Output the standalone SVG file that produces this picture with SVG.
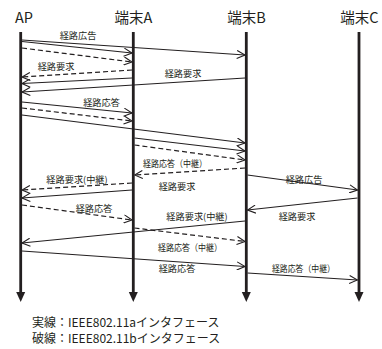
<svg xmlns="http://www.w3.org/2000/svg" width="382" height="349" viewBox="0 0 382 349">
<style>
.hd{font-family:"Noto Sans CJK JP","Noto Sans",sans-serif;font-size:14.5px;fill:#231f20}
.lb{font-family:"Noto Sans CJK JP","Noto Sans",sans-serif;font-size:9.2px;fill:#231f20;text-anchor:middle}
.lg{font-family:"Noto Sans CJK JP","Noto Sans",sans-serif;font-size:12px;fill:#231f20}
.life{stroke:#231f20;stroke-width:2.8;fill:none}
.m{stroke:#231f20;stroke-width:1.2;fill:none;marker-end:url(#oa)}
.d{stroke-dasharray:5,3}
</style>
<defs>
<marker id="oa" viewBox="0 0 10 10" refX="9.5" refY="5" markerWidth="9" markerHeight="9" markerUnits="userSpaceOnUse" orient="auto">
<path d="M0.5,0.5 L9.5,5 L0.5,9.5" fill="none" stroke="#231f20" stroke-width="1.2"/>
</marker>
</defs>
<g id="node-AP">
<text class="hd" x="15" y="23">AP</text>
<line class="life" x1="20.7" y1="32" x2="20.7" y2="293"/>
<path d="M16.2,292 L25.2,292 L20.7,302 Z" fill="#231f20"/>
</g>
<g id="node-A">
<text class="hd" x="133.5" y="23" text-anchor="middle">端末A</text>
<line class="life" x1="133.3" y1="32" x2="133.3" y2="293"/>
<path d="M128.8,292 L137.8,292 L133.3,302 Z" fill="#231f20"/>
</g>
<g id="node-B">
<text class="hd" x="246.5" y="23" text-anchor="middle">端末B</text>
<line class="life" x1="246.3" y1="32" x2="246.3" y2="293"/>
<path d="M241.8,292 L250.8,292 L246.3,302 Z" fill="#231f20"/>
</g>
<g id="node-C">
<text class="hd" x="359.5" y="23" text-anchor="middle">端末C</text>
<line class="life" x1="359" y1="32" x2="359" y2="293"/>
<path d="M354.5,292 L363.5,292 L359,302 Z" fill="#231f20"/>
</g>
<g id="connectors">
<line class="m" x1="22" y1="40" x2="245" y2="55"/>
<line class="m" x1="22" y1="41.5" x2="132" y2="53"/>
<line class="m d" x1="22" y1="48" x2="132" y2="62"/>
<line class="m d" x1="132" y1="70" x2="22" y2="77"/>
<line class="m" x1="132" y1="78" x2="22" y2="83.5"/>
<line class="m" x1="245" y1="78" x2="22" y2="92"/>
<line class="m" x1="22" y1="102" x2="132" y2="113"/>
<line class="m d" x1="22" y1="108" x2="132" y2="121"/>
<line class="m" x1="22" y1="115" x2="245" y2="143"/>
<line class="m" x1="134.5" y1="138" x2="245" y2="151"/>
<line class="m d" x1="134.5" y1="145" x2="245" y2="160"/>
<line class="m d" x1="245" y1="168" x2="134.5" y2="175"/>
<line class="m d" x1="132" y1="183" x2="22" y2="190"/>
<line class="m" x1="132" y1="190" x2="22" y2="198"/>
<line class="m" x1="247.5" y1="175" x2="357.5" y2="190"/>
<line class="m" x1="357.5" y1="198" x2="247.5" y2="210"/>
<line class="m d" x1="22" y1="205" x2="132" y2="220"/>
<line class="m" x1="245" y1="221" x2="22" y2="243"/>
<line class="m d" x1="134.5" y1="228" x2="245" y2="241.5"/>
<line class="m" x1="22" y1="251" x2="245" y2="266.5"/>
<line class="m" x1="247.5" y1="273" x2="357.5" y2="280"/>
</g>
<g id="labels">
<text class="lb" x="78" y="38.5">経路広告</text>
<text class="lb" x="56" y="70">経路要求</text>
<text class="lb" x="183" y="76.5">経路要求</text>
<text class="lb" x="101.5" y="105.5">経路応答</text>
<text class="lb" x="175" y="167" textLength="64" lengthAdjust="spacingAndGlyphs">経路応答（中継）</text>
<text class="lb" x="77" y="182.5">経路要求(中継)</text>
<text class="lb" x="177" y="190">経路要求</text>
<text class="lb" x="304" y="182.5">経路広告</text>
<text class="lb" x="297" y="219.5">経路要求</text>
<text class="lb" x="94" y="212">経路応答</text>
<text class="lb" x="197" y="219.5">経路要求(中継)</text>
<text class="lb" x="190" y="250.5" textLength="64" lengthAdjust="spacingAndGlyphs">経路応答（中継）</text>
<text class="lb" x="177" y="271.5">経路応答</text>
<text class="lb" x="303.5" y="271.5" textLength="63" lengthAdjust="spacingAndGlyphs">経路応答（中継）</text>
</g>
<g id="legend">
<text class="lg" x="32" y="327">実線：IEEE802.11aインタフェース</text>
<text class="lg" x="32" y="343">破線：IEEE802.11bインタフェース</text>
</g>
</svg>
